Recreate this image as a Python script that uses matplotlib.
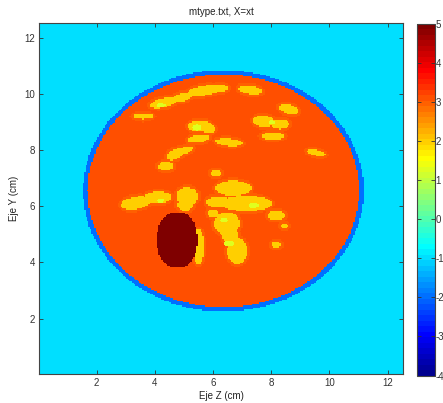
import numpy as np
import matplotlib
matplotlib.use("Agg")
import matplotlib.pyplot as plt
from matplotlib.colors import ListedColormap

# ---- material map values ----
BACKGROUND = -1.0
SKIN = -2.0
TISSUE = 3.15
HALO = 2.9
FAT = 2.0
BRIGHT = 1.3
TUMOR = 5.0

# body outline (cm): centre and semi-axes, skin thickness
body_center = (6.36, 6.55)
body_radii = (4.82, 4.30)
skin_width = 0.16

# tumour (cm): centre, semi-axes
tumor_center = (4.77, 4.80)
tumor_radii = (0.69, 1.00)

# fatty patches: (cx, cy, rx, ry, angle_deg)
fat_patches = [
    # upper band
    (4.30, 9.68, 0.48, 0.16, 12), (4.95, 9.88, 0.38, 0.14, 15),
    (5.70, 10.12, 0.58, 0.17, 8), (6.25, 10.20, 0.28, 0.12, 0),
    (7.28, 10.14, 0.42, 0.15, -8), (8.60, 9.45, 0.34, 0.16, -15),
    (3.60, 9.20, 0.35, 0.10, 0),
    # middle rows
    (5.55, 8.85, 0.42, 0.19, 0), (5.85, 8.75, 0.22, 0.14, 0),
    (7.75, 9.02, 0.37, 0.20, -5), (8.30, 8.92, 0.32, 0.17, 0),
    (8.05, 8.50, 0.40, 0.13, 0), (5.50, 8.40, 0.40, 0.13, 8),
    (6.55, 8.28, 0.47, 0.13, -5), (4.70, 7.85, 0.32, 0.17, 25),
    (5.05, 8.00, 0.27, 0.12, 20), (9.55, 7.90, 0.32, 0.10, -12),
    (4.38, 7.42, 0.27, 0.15, 0), (6.10, 7.18, 0.18, 0.12, 0),
    # lower cluster
    (3.35, 6.12, 0.52, 0.22, 10), (4.12, 6.32, 0.47, 0.20, 0),
    (5.12, 6.35, 0.37, 0.32, 0), (5.05, 6.05, 0.27, 0.22, 0),
    (6.70, 6.64, 0.62, 0.27, 0), (7.15, 6.10, 0.87, 0.28, 0),
    (6.18, 6.15, 0.42, 0.20, 0), (6.48, 5.38, 0.44, 0.42, 0),
    (6.83, 4.40, 0.34, 0.47, 0), (6.60, 4.95, 0.27, 0.27, 0),
    (5.50, 4.55, 0.18, 0.64, 0), (8.17, 5.67, 0.30, 0.17, 0),
    (8.17, 4.63, 0.15, 0.12, 0), (8.45, 5.30, 0.11, 0.09, 0),
    (6.00, 5.75, 0.17, 0.14, 0),
]

# brightest fat spots: (cx, cy, rx, ry)
bright_spots = [
    (4.21, 9.59, 0.15, 0.07), (5.45, 8.80, 0.15, 0.10),
    (7.38, 6.03, 0.18, 0.10), (6.38, 5.50, 0.15, 0.08),
    (6.55, 4.67, 0.17, 0.10), (4.21, 6.21, 0.12, 0.08),
    (8.04, 8.98, 0.10, 0.08),
]

# ---- build the grid (0.05 cm voxels) ----
n = 250
step = 0.05
coords = (np.arange(n) + 1) * step
X, Y = np.meshgrid(coords, coords)

grid = np.full((n, n), BACKGROUND)

bx, by = body_center
brx, bry = body_radii
outer = ((X - bx) / brx) ** 2 + ((Y - by) / bry) ** 2 <= 1.0
inner = ((X - bx) / (brx - skin_width)) ** 2 + ((Y - by) / (bry - skin_width)) ** 2 <= 1.0
grid[outer] = SKIN
grid[inner] = TISSUE


def ellipse_mask(cx, cy, rx, ry, ang=0.0, grow=0.0):
    a = np.deg2rad(ang)
    dx, dy = X - cx, Y - cy
    u = dx * np.cos(a) + dy * np.sin(a)
    v = -dx * np.sin(a) + dy * np.cos(a)
    return (u / (rx + grow)) ** 2 + (v / (ry + grow)) ** 2 <= 1.0


for cx, cy, rx, ry, ang in fat_patches:
    grid[ellipse_mask(cx, cy, rx, ry, ang, grow=0.1) & inner & (grid == TISSUE)] = HALO
for cx, cy, rx, ry, ang in fat_patches:
    grid[ellipse_mask(cx, cy, rx, ry, ang) & inner] = FAT
for cx, cy, rx, ry in bright_spots:
    grid[ellipse_mask(cx, cy, rx, ry) & inner] = BRIGHT

tx, ty = tumor_center
trx, try_ = tumor_radii
tumor = np.abs((X - tx) / trx) ** 2.25 + np.abs((Y - ty) / try_) ** 2.25 <= 1.0
grid[tumor] = TUMOR

# ---- classic 64-level jet colormap ----
m = 64
q = m // 4
u = np.concatenate([np.arange(1, q + 1) / q, np.ones(q - 1), np.arange(q, 0, -1) / q])
g_idx = int(np.ceil(q / 2)) - (1 if m % 4 == 1 else 0) + np.arange(1, len(u) + 1)
r_idx = g_idx + q
b_idx = g_idx - q
cmap_arr = np.zeros((m, 3))
for ch, idx in ((0, r_idx), (1, g_idx), (2, b_idx)):
    ok = (idx >= 1) & (idx <= m)
    cmap_arr[idx[ok] - 1, ch] = u[ok]
jet64 = ListedColormap(cmap_arr)

# ---- figure ----
plt.rcParams['font.family'] = ['Liberation Sans', 'DejaVu Sans']
plt.rcParams['axes.unicode_minus'] = False
fig = plt.figure(figsize=(4.43, 4.03), dpi=100)
ax = fig.add_axes([39 / 443, 29 / 403, 364 / 443, 351 / 403])

half = step / 2
im = ax.imshow(grid, origin='lower', cmap=jet64, vmin=-4, vmax=5,
               extent=(coords[0] - half, coords[-1] + half,
                       coords[0] - half, coords[-1] + half),
               aspect='auto', interpolation='nearest')

tick_col = '#333333'
ax.set_xticks(np.arange(2, 13, 2))
ax.set_yticks(np.arange(2, 13, 2))
ax.tick_params(direction='in', length=3, width=0.6, top=True, right=True,
               labelsize=7, colors=tick_col, pad=3)
for s in ax.spines.values():
    s.set_color('#444444')
    s.set_linewidth(0.8)

ax.set_title('mtype.txt, X=xt', fontsize=7, color='#222222', pad=6)
ax.set_xlabel('Eje Z (cm)', fontsize=7, color='#222222', labelpad=2)
ax.set_ylabel('Eje Y (cm)', fontsize=7, color='#222222', labelpad=4)

cax = fig.add_axes([417 / 443, 27.5 / 403, 17.5 / 443, 352 / 403])
cb = fig.colorbar(im, cax=cax)
cb.set_ticks(np.arange(-4, 6, 1))
cb.ax.tick_params(direction='in', length=3, width=0.6, left=True, right=True,
                  labelsize=7, colors=tick_col, pad=0.8)
cb.outline.set_edgecolor('#444444')
cb.outline.set_linewidth(0.8)

fig.savefig('out.png', dpi=100)
